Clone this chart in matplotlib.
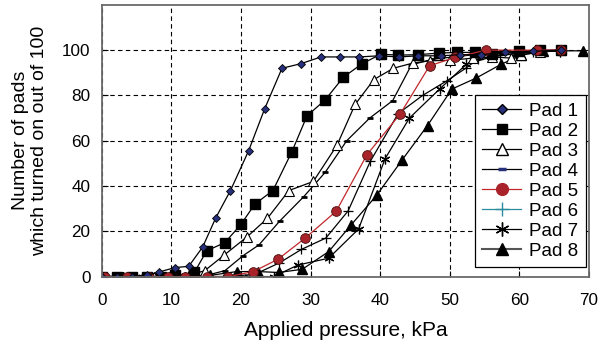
import matplotlib
matplotlib.use('Agg')
import matplotlib.pyplot as plt
from matplotlib.lines import Line2D

plt.rcParams['font.family'] = ['Liberation Sans', 'DejaVu Sans']

# pressure (kPa) and count for each pad
pad1_x = [0, 2.2, 4.4, 6.5, 8.2, 10.6, 12.5, 14.5, 16.4, 18.5, 21.1, 23.4, 25.9, 28.6, 31.5, 34.2, 37.0, 39.8, 42.7, 45.5, 48.7, 51.5, 54.5, 58.0, 62.0, 66.0]
pad1_y = [0, 0, 0, 0.5, 2, 4, 4.5, 13, 26, 38, 55.5, 74, 92, 94, 97, 97, 97, 97.5, 97, 97.5, 97.5, 98, 98, 99, 99.5, 100]

pad2_x = [0, 2.2, 4.4, 6.5, 8.5, 10.6, 13.3, 15.1, 17.7, 20.0, 22.0, 24.6, 27.3, 29.5, 32.1, 34.7, 37.4, 40.1, 42.6, 45.5, 48.4, 51.1, 53.6, 56.0, 60.0, 63.0, 66.0]
pad2_y = [0, 0, 0, 0, 0, 0.5, 1.8, 11.4, 15, 23, 32, 38, 55, 71, 78, 88, 94, 98.2, 97.8, 98, 98.7, 99, 99, 98.5, 99.5, 100, 100]

pad3_x = [0, 2.5, 5, 7.5, 10, 12.5, 14.8, 17.6, 20.9, 23.8, 26.9, 30.4, 33.8, 36.4, 39.1, 41.9, 44.7, 47.2, 50.0, 53.4, 56.0, 58.8, 60.3, 63.0, 66.0]
pad3_y = [0, 0, 0, 0, 0, 0.5, 2.6, 9.5, 17.6, 25.7, 38, 42, 58, 76, 87, 92, 94.3, 95.3, 95.5, 96.5, 97, 96.5, 98, 99, 100]

pad4_x = [0, 2.5, 5, 7.5, 10, 12.5, 15, 17.7, 20.3, 22.6, 25.6, 29.0, 32.1, 35.2, 38.5, 41.8, 44.5, 47.5, 50.5, 53.5, 57, 62, 66]
pad4_y = [0, 0, 0, 0, 0, 0, 0.5, 2.6, 9.2, 14, 24.6, 35.2, 46, 60, 70, 77.7, 93.5, 96, 97, 98, 99, 99.5, 100]

pad5_x = [0.5, 3.6, 6.8, 9.5, 12.0, 15.1, 18.2, 21.8, 25.3, 29.2, 33.7, 38.1, 42.9, 47.1, 50.8, 55.2, 62.5, 66.0]
pad5_y = [0, 0, 0, 0, 0, 0, 0, 2.2, 7.6, 16.9, 28.9, 53.8, 71.9, 93.1, 96.8, 100, 100, 100]

pad6_x = [0, 3, 6, 9, 12, 15, 18, 22, 25.5, 28.7, 32.2, 35.4, 38.6, 42.6, 46.1, 49.6, 52.3, 54.0, 57.2, 62, 66]
pad6_y = [0, 0, 0, 0, 0, 0, 0, 1, 6, 12, 17, 29, 51, 72, 80, 86.5, 92, 96, 98, 99, 100]

pad7_x = [0, 3, 6, 9.7, 12.7, 15, 18, 21.2, 24.7, 28.2, 32.6, 36.9, 40.7, 44.2, 48.6, 52.4, 56, 59.5, 63, 65.9]
pad7_y = [0, 0, 0, 0, 0, 0, 0, 0, 0, 5.1, 8.1, 21, 52, 70, 83, 93.8, 97, 98.5, 99.7, 99.4]

pad8_x = [0, 3, 6, 9, 12, 15.5, 19.4, 22.5, 25.4, 28.8, 32.6, 35.8, 39.5, 43.2, 46.8, 50.3, 53.8, 57.4, 60.3, 63.4, 69.2]
pad8_y = [0, 0, 0, 0, 0, 0.5, 2.2, 2.2, 1.8, 3.2, 11, 22.7, 35.9, 51.7, 66.7, 82.8, 87.7, 93.8, 97.8, 99.7, 99.7]

labels = ['Pad 1', 'Pad 2', 'Pad 3', 'Pad 4', 'Pad 5', 'Pad 6', 'Pad 7', 'Pad 8']

fig = plt.figure(figsize=(5.98, 3.47), dpi=100)
ax = fig.add_axes([0.170, 0.203, 0.815, 0.783])

lw = 0.9
ax.plot(pad8_x, pad8_y, color='black', lw=lw, marker='^', ms=6.5, mfc='black', mec='black')
ax.plot(pad7_x, pad7_y, color='black', lw=lw, marker=(6, 2, 0), ms=7, mec='black', mew=0.9)
ax.plot(pad6_x, pad6_y, color='black', lw=lw, marker='+', ms=7, mec='black', mew=0.9)
ax.plot(pad4_x, pad4_y, color='black', lw=lw, marker='_', ms=5, mec='black', mew=2)
ax.plot(pad3_x, pad3_y, color='black', lw=lw, marker='^', ms=7, mfc='white', mec='black', mew=0.8)
ax.plot(pad2_x, pad2_y, color='black', lw=lw, marker='s', ms=6.5, mfc='black', mec='black')
ax.plot(pad5_x, pad5_y, color='#c0282c', lw=lw, marker='o', ms=7, mfc='#a8242a', mec='#4a1010', mew=0.6)
ax.plot(pad1_x, pad1_y, color='black', lw=lw, marker='D', ms=4.5, mfc='#27307a', mec='black', mew=0.6)

ax.set_xlim(0, 70)
ax.set_ylim(0, 120)
ax.set_xticks(range(0, 80, 10))
ax.set_yticks(range(0, 120, 20))
ax.tick_params(direction='in', length=4, labelsize=12.3, colors='black')
ax.tick_params(axis='x', pad=12)
ax.tick_params(axis='y', pad=8)
ax.grid(True, color='black', ls=(0, (4, 3)), lw=0.8)
for s in ax.spines.values():
    s.set_color('#6a6a6a')
    s.set_linewidth(1.3)

ax.set_xlabel('Applied pressure, kPa', fontsize=15, labelpad=9)
ax.set_ylabel('Number of pads\nwhich turned on out of 100', fontsize=14, labelpad=10)

handles = [
    Line2D([], [], color='black', lw=lw, marker='D', ms=5.5, mfc='#27307a', mec='black'),
    Line2D([], [], color='black', lw=lw, marker='s', ms=7.5, mfc='black'),
    Line2D([], [], color='black', lw=lw, marker='^', ms=8, mfc='white', mec='black'),
    Line2D([], [], color='black', lw=lw, marker='_', ms=6, mec='#27307a', mew=2.5),
    Line2D([], [], color='#c0282c', lw=lw, marker='o', ms=8.5, mfc='#a8242a', mec='#a8242a'),
    Line2D([], [], color='#2a8c9c', lw=lw, marker='+', ms=10, mec='#2a8c9c'),
    Line2D([], [], color='black', lw=lw, marker=(6, 2, 0), ms=10, mec='black'),
    Line2D([], [], color='#555555', lw=1.5, marker='^', ms=8.5, mfc='black', mec='black'),
]
leg = ax.legend(handles, labels, loc='lower right', bbox_to_anchor=(0.993, 0.035),
                fontsize=13.5, labelspacing=0.15, handlelength=2.1, handletextpad=0.4,
                borderpad=0.4, borderaxespad=0, fancybox=False, framealpha=1, edgecolor='black')
leg.get_frame().set_linewidth(0.9)

fig.savefig('out.png', dpi=100)
